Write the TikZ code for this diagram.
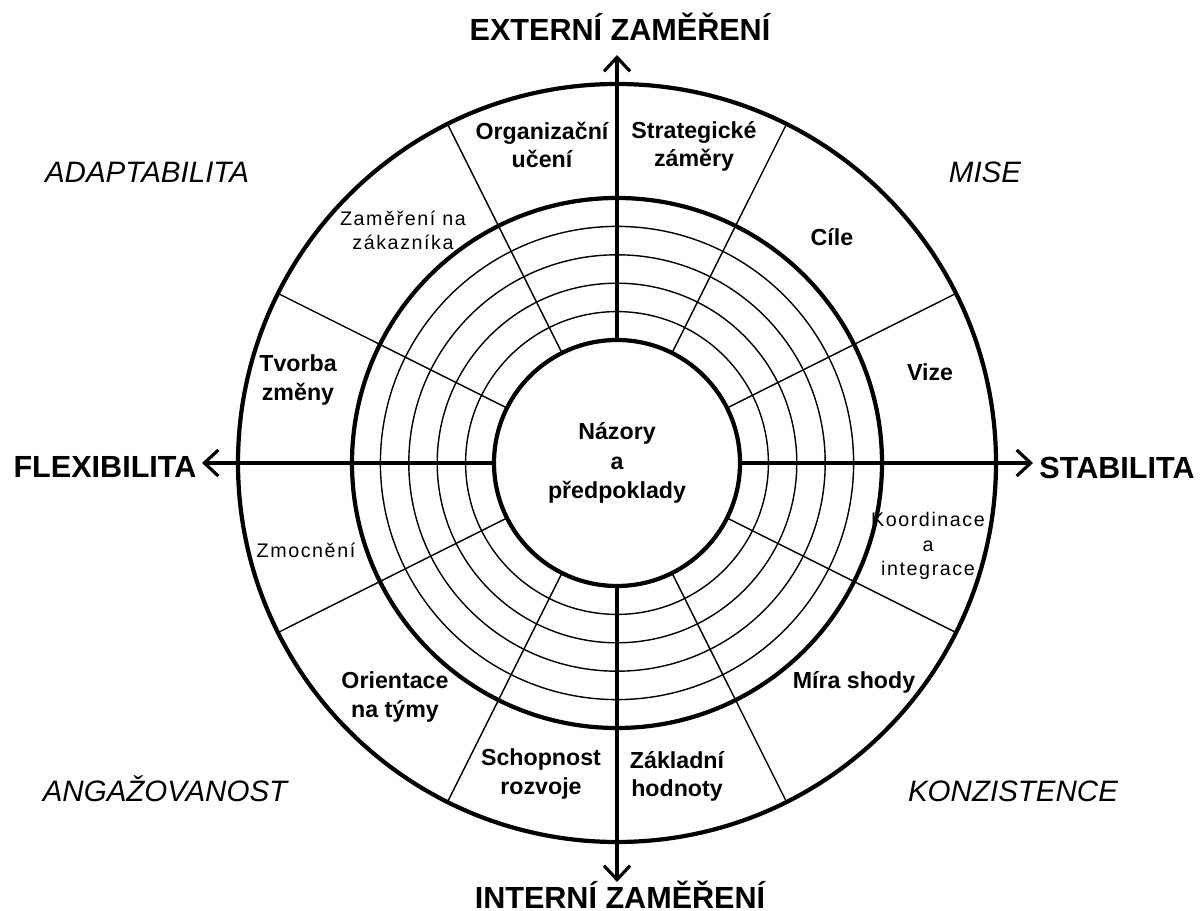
\documentclass[tikz,border=0pt]{standalone}
\usepackage{fontspec}
\setmainfont{Liberation Sans}
\newfontfamily\spacedfont[LetterSpace=8]{Liberation Sans}
\usetikzlibrary{arrows.meta}

\begin{document}
\begin{tikzpicture}[
  ring/.style={line width=1.2pt},
  grid/.style={line width=0.4pt},
  axis/.style={line width=0.9pt, -{Straight Barb[length=1.4mm,width=2.6mm]}},
  lbl/.style={font=\bfseries\fontsize{6.6}{8}\selectfont, align=center, inner sep=0pt},
  spaced/.style={font=\spacedfont\fontsize{5.6}{6.9}\selectfont, align=center, inner sep=0pt},
  pole/.style={font=\bfseries\fontsize{8.7}{10}\selectfont, anchor=base, inner sep=0pt},
  corner/.style={font=\itshape\fontsize{8.4}{10}\selectfont, anchor=base, inner sep=0pt}
]
  \useasboundingbox (-6.17,-4.47) rectangle (5.85,4.63);

  % Rings
  \foreach \r in {1.514,1.798,2.082,2.366}
    \draw[grid] (0,0) circle (\r);
  \draw[ring] (0,0) circle (2.65);
  \draw[ring] (0,0) circle (3.79);

  % Dividers between the twelve fields
  \foreach \a in {26.57,63.43,116.57,153.43,206.57,243.43,296.57,333.43}
    \draw[grid] (\a:1.23) -- (\a:3.79);

  % Core
  \node[circle, draw, ring, minimum size=2.46cm, lbl,
        font=\bfseries\fontsize{6.6}{8.5}\selectfont] (core) at (0,0)
        {Názory\\a\\předpoklady};

  % Axes
  \coordinate (tipN) at (0,4.08);
  \coordinate (tipS) at (0,-4.19);
  \coordinate (tipW) at (-4.15,0);
  \coordinate (tipE) at (4.16,0);
  \draw[axis] (core.north) -- (tipN);
  \draw[axis] (core.south) -- (tipS);
  \draw[axis] (core.west) -- (tipW);
  \draw[axis] (core.east) -- (tipE);

  \node[pole] (ext) at (0.03,4.22) {EXTERNÍ ZAMĚŘENÍ};
  \node[pole] (int) at (0.03,-4.45) {INTERNÍ ZAMĚŘENÍ};
  \node[pole] (flex) at (-5.12,-0.15) {FLEXIBILITA};
  \node[pole] (stab) at (5.00,-0.16) {STABILITA};

  % Quadrants
  \node[corner] (adapt) at (-4.70,2.80) {ADAPTABILITA};
  \node[corner] (mise) at (3.68,2.80) {MISE};
  \node[corner] (angaz) at (-4.52,-3.38) {ANGAŽOVANOST};
  \node[corner] (konz) at (3.96,-3.38) {KONZISTENCE};

  % Fields
  \node[lbl] (org) at (-0.75,3.18) {Organizační\\učení};
  \node[lbl] (strat) at (0.77,3.17) {Strategické\\záměry};
  \node[lbl] (cile) at (2.15,2.26) {Cíle};
  \node[lbl] (vize) at (3.13,0.91) {Vize};
  \node[spaced] (koord) at (3.11,-0.83) {Koordinace\\a\\integrace};
  \node[lbl] (mira) at (2.37,-2.19) {Míra shody};
  \node[lbl] (zakl) at (0.60,-3.13) {Základní\\hodnoty};
  \node[lbl] (schop) at (-0.76,-3.11) {Schopnost\\rozvoje};
  \node[lbl] (orient) at (-2.22,-2.34) {Orientace\\na týmy};
  \node[spaced] (zmoc) at (-3.11,-0.87) {Zmocnění};
  \node[lbl] (tvorba) at (-3.19,0.83) {Tvorba\\změny};
  \node[spaced] (zak) at (-2.14,2.33) {Zaměření na\\zákazníka};
\end{tikzpicture}
\end{document}
